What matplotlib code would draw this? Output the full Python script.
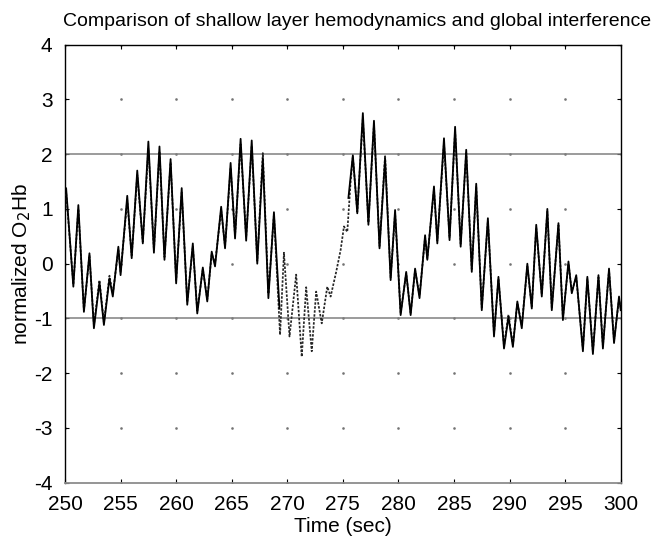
import numpy as np
import matplotlib
matplotlib.use('Agg')
import matplotlib.pyplot as plt

plt.rcParams['font.family'] = ['Liberation Sans', 'DejaVu Sans']
plt.rcParams['axes.unicode_minus'] = False

# shallow layer signal (solid), two segments, extrema
t_shallow_a = [250.0, 250.1, 250.75, 251.2, 251.7, 252.2, 252.6, 253.1, 253.5, 254.0,
               254.3, 254.8, 255.0, 255.6, 256.0, 256.5, 257.0, 257.5, 258.0, 258.5,
               258.95, 259.5, 260.0, 260.5, 261.0, 261.5, 261.9, 262.4, 262.8, 263.2,
               263.5, 264.05, 264.4, 264.9, 265.3, 265.8, 266.3, 266.8, 267.3, 267.8,
               268.3, 268.8, 269.3]
v_shallow_a = [1.30, 1.38, -0.42, 1.07, -0.88, 0.19, -1.18, -0.34, -1.12, -0.27,
               -0.60, 0.31, -0.21, 1.24, 0.10, 1.70, 0.37, 2.23, 0.20, 2.14,
               0.07, 1.91, -0.36, 1.38, -0.75, 0.37, -0.91, -0.07, -0.69, 0.22,
               -0.05, 1.04, 0.28, 1.84, 0.46, 2.28, 0.42, 2.25, 0.00, 1.92,
               -0.63, 0.94, -0.82]

t_shallow_b = [275.5, 275.9, 276.3, 276.8, 277.3, 277.8, 278.3, 278.8, 279.3, 279.7,
               280.2, 280.7, 281.1, 281.5, 281.9, 282.4, 282.6, 283.2, 283.5, 284.1,
               284.6, 285.1, 285.6, 286.1, 286.6, 287.0, 287.5, 288.05, 288.6, 289.0,
               289.5, 289.9, 290.3, 290.7, 291.1, 291.6, 292.0, 292.4, 292.9, 293.4,
               293.8, 294.4, 294.8, 295.3, 295.6, 296.0, 296.6, 297.0, 297.5, 298.0,
               298.4, 298.95, 299.4, 299.85, 300.0]
v_shallow_b = [1.20, 1.98, 0.92, 2.75, 0.71, 2.61, 0.28, 1.92, -0.30, 0.98,
               -0.94, -0.15, -0.94, -0.09, -0.63, 0.52, 0.07, 1.41, 0.37, 2.29,
               0.43, 2.50, 0.31, 2.08, -0.15, 1.46, -0.85, 0.83, -1.33, -0.24,
               -1.55, -0.97, -1.52, -0.69, -1.18, 0.00, -0.82, 0.71, -0.60, 1.00,
               -0.85, 0.74, -1.03, 0.04, -0.54, -0.21, -1.60, -0.24, -1.65, -0.21,
               -1.55, -0.09, -1.45, -0.60, -0.85]

# global interference (dotted), whole window
t_global = [250.0, 250.1, 250.75, 251.2, 251.7, 252.2, 252.6, 253.1, 253.5, 254.0,
            254.3, 254.8, 255.0, 255.6, 256.0, 256.5, 257.0, 257.5, 258.0, 258.5,
            258.95, 259.5, 260.0, 260.5, 261.0, 261.5, 261.9, 262.4, 262.8, 263.2,
            263.5, 264.05, 264.4, 264.9, 265.3, 265.8, 266.3, 266.8, 267.3, 267.8,
            268.3, 268.8, 269.35, 269.7, 270.2, 270.8, 271.3, 271.7, 272.2, 272.6,
            273.1, 273.6, 273.9, 274.4, 274.8, 275.1, 275.4, 275.7, 275.9, 276.3,
            276.8, 277.3, 277.8, 278.3, 278.8, 279.3, 279.7, 280.2, 280.7, 281.1,
            281.5, 281.9, 282.4, 282.6, 283.2, 283.5, 284.1, 284.6, 285.1, 285.6,
            286.1, 286.6, 287.0, 287.5, 288.05, 288.6, 289.0, 289.5, 289.9, 290.3,
            290.7, 291.1, 291.6, 292.0, 292.4, 292.9, 293.4, 293.8, 294.4, 294.8,
            295.3, 295.6, 296.0, 296.6, 297.0, 297.5, 298.0, 298.4, 298.95, 299.4,
            299.85, 300.0]
v_global = [1.35, 1.30, -0.38, 1.00, -0.85, 0.15, -1.12, -0.30, -1.08, -0.22,
            -0.55, 0.25, -0.15, 1.15, 0.15, 1.62, 0.40, 2.10, 0.25, 2.05,
            0.12, 1.85, -0.30, 1.30, -0.70, 0.32, -0.86, -0.10, -0.65, 0.18,
            0.00, 0.98, 0.32, 1.75, 0.52, 2.18, 0.48, 2.15, 0.05, 2.02,
            -0.55, 0.90, -1.30, 0.20, -1.33, -0.20, -1.70, -0.43, -1.60, -0.51,
            -1.09, -0.42, -0.60, -0.15, 0.25, 0.68, 0.58, 1.50, 1.95, 0.95,
            2.65, 0.75, 2.55, 0.32, 1.98, -0.25, 0.92, -0.90, -0.18, -0.90,
            -0.12, -0.58, 0.48, 0.10, 1.35, 0.42, 2.20, 0.48, 2.42, 0.36,
            2.02, -0.10, 1.40, -0.80, 0.78, -1.28, -0.28, -1.50, -0.93, -1.48,
            -0.72, -1.12, -0.05, -0.78, 0.66, -0.56, 0.95, -0.80, 0.70, -0.98,
            0.00, -0.50, -0.25, -1.55, -0.28, -1.60, -0.25, -1.50, -0.12, -1.40,
            -0.65, -0.80]

xticks = np.arange(250, 301, 5)
yticks = np.arange(-4, 5, 1)
ref_levels = [2, -1]

fig = plt.figure(figsize=(6.62, 5.5), dpi=100)
ax = fig.add_axes([0.0982, 0.1224, 0.8394, 0.7964])

# grid drawn as single dots at tick crossings
gx, gy = np.meshgrid(xticks, yticks)
ax.plot(gx.ravel(), gy.ravel(), linestyle='none', marker='s', markersize=0.8,
        color='0.45', zorder=1)

for lev in ref_levels:
    ax.axhline(lev, color='0.5', linewidth=1.1, zorder=2)

ax.plot(t_global, v_global, color='0.15', linestyle=(0, (1.4, 0.9)), linewidth=1.25,
        zorder=3)
for tt, vv in [(t_shallow_a, v_shallow_a), (t_shallow_b, v_shallow_b)]:
    ax.plot(tt, vv, color='black', linewidth=1.3, solid_joinstyle='round', zorder=4)

ax.set_xlim(250, 300)
ax.set_ylim(-4, 4)
ax.set_xticks(xticks)
ax.set_yticks(yticks)
ax.tick_params(direction='in', length=3, width=0.8, labelsize=15, pad=9,
               top=True, right=True)
for side in ['left', 'right', 'top']:
    ax.spines[side].set_linewidth(1.0)
ax.spines['bottom'].set_color('0.55')
ax.spines['bottom'].set_linewidth(1.3)

ax.set_xlabel('Time (sec)', fontsize=15, labelpad=2)
ax.set_ylabel(r'normalized O$_2$Hb', fontsize=15, labelpad=1)
fig.text(0.540, 0.960, 'Comparison of shallow layer hemodynamics and global interference',
         ha='center', va='center', fontsize=14)

fig.savefig('out.png', dpi=100)
